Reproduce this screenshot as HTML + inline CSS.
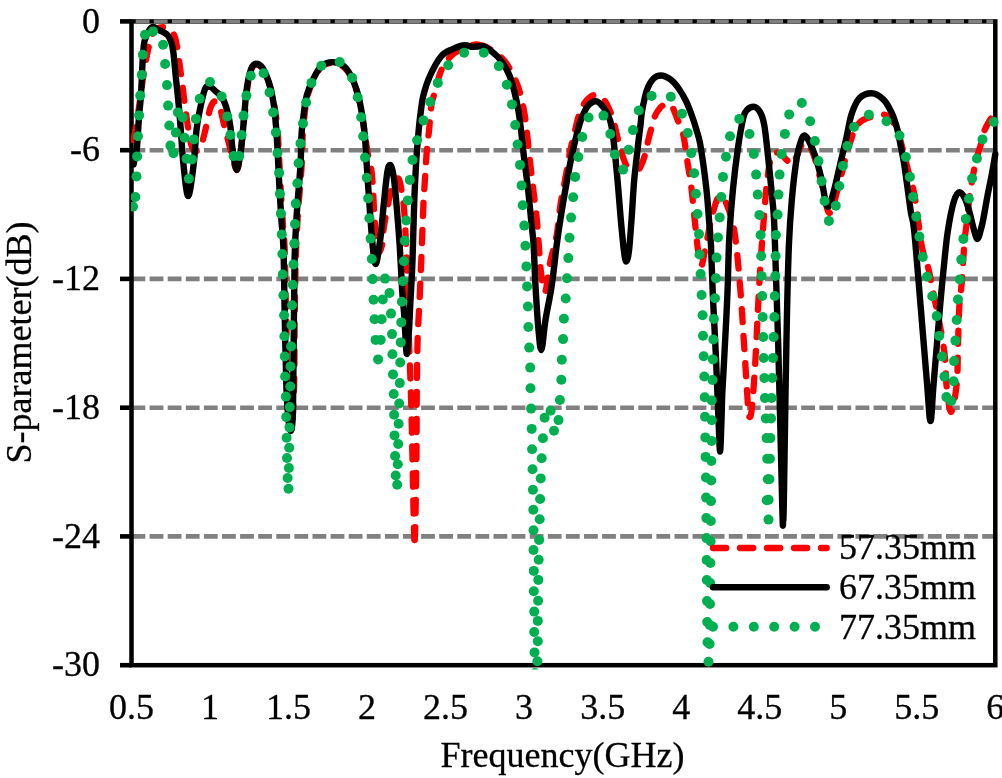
<!DOCTYPE html>
<html><head><meta charset="utf-8"><title>S-parameter chart</title>
<style>html,body{margin:0;padding:0;background:#fff;}body{width:1002px;height:778px;overflow:hidden;font-family:"Liberation Serif",serif;}svg{display:block;will-change:transform;}</style>
</head><body>
<svg width="1002" height="778" viewBox="0 0 1002 778">
<rect width="1002" height="778" fill="#fff"/>
<line x1="131.5" y1="150.2" x2="995.3" y2="150.2" stroke="#808080" stroke-width="4.6" stroke-dasharray="13.8 4.3"/>
<line x1="131.5" y1="278.9" x2="995.3" y2="278.9" stroke="#808080" stroke-width="4.6" stroke-dasharray="13.8 4.3"/>
<line x1="131.5" y1="407.7" x2="995.3" y2="407.7" stroke="#808080" stroke-width="4.6" stroke-dasharray="13.8 4.3"/>
<line x1="131.5" y1="536.4" x2="995.3" y2="536.4" stroke="#808080" stroke-width="4.6" stroke-dasharray="13.8 4.3"/>
<line x1="120" y1="21.4" x2="131.5" y2="21.4" stroke="#000" stroke-width="4.6"/>
<line x1="120" y1="150.2" x2="131.5" y2="150.2" stroke="#000" stroke-width="4.6"/>
<line x1="120" y1="278.9" x2="131.5" y2="278.9" stroke="#000" stroke-width="4.6"/>
<line x1="120" y1="407.7" x2="131.5" y2="407.7" stroke="#000" stroke-width="4.6"/>
<line x1="120" y1="536.4" x2="131.5" y2="536.4" stroke="#000" stroke-width="4.6"/>
<line x1="120" y1="665.2" x2="131.5" y2="665.2" stroke="#000" stroke-width="4.6"/>
<rect x="131.5" y="21.4" width="863.8" height="643.8" fill="none" stroke="#000" stroke-width="4.5"/>
<line x1="133.7" y1="21.4" x2="993.1" y2="21.4" stroke="#808080" stroke-width="3.6" stroke-dasharray="13.8 4.3" stroke-dashoffset="-2"/>
<defs><clipPath id="pc"><rect x="131.0" y="0.0" width="871.0" height="669.5"/></clipPath></defs>
<g clip-path="url(#pc)" fill="none" stroke-linejoin="round">
<path d="M132.0,145.0 C132.7,142.0 134.7,134.5 136.0,127.0 C137.3,119.5 138.8,108.7 140.0,100.0 C141.2,91.3 142.3,82.5 143.5,75.0 C144.7,67.5 145.9,60.5 147.0,55.0 C148.1,49.5 149.0,45.7 150.0,42.0 C151.0,38.3 151.8,35.2 153.0,33.0 C154.2,30.8 155.3,29.5 157.0,28.5 C158.7,27.5 161.5,27.2 163.3,27.2 C165.1,27.2 166.6,28.4 168.0,29.0 C169.4,29.6 170.4,29.8 171.5,31.0 C172.6,32.2 173.6,33.7 174.5,36.0 C175.4,38.3 176.1,41.0 176.8,45.0 C177.6,49.0 178.3,55.2 179.0,60.0 C179.7,64.8 180.3,69.3 180.9,74.0 C181.5,78.7 182.0,81.7 182.8,88.0 C183.6,94.3 184.5,103.0 185.8,112.0 C187.1,121.0 189.0,135.1 190.5,141.7 C192.0,148.3 193.4,151.5 195.0,151.5 C196.6,151.5 198.4,150.9 200.0,148.0 C201.6,145.1 203.1,139.0 204.4,134.0 C205.7,129.0 207.0,122.4 208.0,118.0 C209.0,113.6 209.4,110.2 210.5,107.5 C211.6,104.8 213.2,101.5 214.4,101.5 C215.6,101.5 216.5,101.2 217.6,102.8 C218.7,104.3 219.6,106.6 220.8,110.8 C222.0,115.0 223.6,123.1 224.8,128.0 C226.0,132.9 226.8,135.5 228.0,140.0 C229.2,144.5 230.5,150.0 232.0,155.0 C233.5,160.0 235.3,170.0 236.8,170.0 C238.3,170.0 239.9,156.5 241.0,149.0 C242.1,141.5 242.8,131.2 243.5,125.0 C244.2,118.8 244.3,118.3 245.0,112.0 C245.7,105.7 246.5,94.0 247.5,87.0 C248.5,80.0 249.6,73.8 251.0,70.0 C252.4,66.2 254.1,64.5 256.0,64.5 C257.9,64.5 260.3,65.4 262.5,68.5 C264.7,71.6 267.1,77.1 269.0,83.0 C270.9,88.9 272.6,96.8 274.0,104.0 C275.4,111.2 276.4,118.5 277.2,126.0 C278.0,133.5 278.1,138.5 278.7,149.0 C279.3,159.5 280.0,177.0 280.7,189.0 C281.4,201.0 282.0,210.8 282.7,221.0 C283.4,231.2 284.1,233.5 284.7,250.0 C285.3,266.5 285.6,296.7 286.2,320.0 C286.8,343.3 287.4,371.7 288.2,390.0 C289.0,408.3 290.2,430.0 291.2,430.0" stroke="#ff0000" stroke-width="6.3" stroke-linecap="round" stroke-dasharray="13.2 13.8" stroke-dashoffset="21.83"/>
<path d="M291.2,430.0 C292.2,430.0 293.4,408.3 294.0,390.0 C294.6,371.7 294.4,341.7 294.7,320.0 C295.0,298.3 295.3,275.0 295.7,260.0 C296.1,245.0 296.5,239.2 297.0,230.0 C297.5,220.8 297.8,215.6 298.6,204.8 C299.4,194.0 301.0,176.6 301.7,165.0 C302.4,153.4 302.2,143.3 302.7,135.0 C303.2,126.7 303.7,121.5 304.5,115.0 C305.3,108.5 306.0,101.8 307.5,96.0 C309.0,90.2 311.2,84.8 313.5,80.0 C315.8,75.2 318.3,69.8 321.5,67.0 C324.7,64.2 328.8,63.0 332.5,63.0 C336.2,63.0 340.5,64.5 343.7,67.0 C346.9,69.5 349.2,73.2 351.6,78.0 C354.0,82.8 356.3,89.3 358.0,95.5 C359.7,101.7 360.8,108.4 362.0,115.0 C363.2,121.6 364.0,128.3 365.0,135.0 C366.0,141.7 366.8,148.3 368.0,155.0 C369.2,161.7 370.9,163.8 372.0,175.0 C373.1,186.2 373.8,209.0 374.8,222.0 C375.8,235.0 376.8,253.0 378.0,253.0 C379.2,253.0 381.0,249.6 382.0,245.3 C383.0,241.0 383.1,232.7 383.8,227.3 C384.6,221.9 385.3,219.0 386.5,213.0 C387.7,207.0 389.1,197.1 391.0,191.3 C392.9,185.6 396.2,178.5 398.0,178.5 C399.8,178.5 400.6,185.6 401.7,191.3 C402.8,197.1 403.6,203.4 404.4,213.0 C405.1,222.6 405.7,237.7 406.2,248.9 C406.7,260.1 406.8,264.8 407.3,280.0 C407.8,295.2 408.4,321.7 409.0,340.0 C409.6,358.3 410.2,371.7 410.8,390.0 C411.4,408.3 411.9,430.0 412.3,450.0 C412.8,470.0 413.1,495.0 413.5,510.0 C413.9,525.0 414.2,540.0 414.6,540.0" stroke="#ff0000" stroke-width="6.3" stroke-linecap="round" stroke-dasharray="13.2 13.8" stroke-dashoffset="15.01"/>
<path d="M414.6,540.0 C415.0,540.0 415.3,525.0 415.6,510.0 C415.9,495.0 416.3,469.8 416.5,450.0 C416.7,430.2 416.6,409.7 416.8,391.0 C417.0,372.3 417.2,353.8 417.7,337.8 C418.2,321.8 419.2,308.8 419.8,295.0 C420.4,281.2 420.9,269.6 421.5,255.0 C422.1,240.4 422.7,220.5 423.3,207.5 C423.9,194.5 424.5,186.6 425.1,177.0 C425.7,167.4 426.2,157.7 426.9,150.0 C427.5,142.3 428.2,138.5 429.0,131.0 C429.8,123.5 430.5,111.3 431.4,105.0 C432.3,98.7 433.0,98.9 434.6,93.2 C436.2,87.5 438.4,77.0 441.0,70.9 C443.6,64.8 447.0,60.1 450.5,56.5 C454.0,52.9 457.7,51.0 462.0,49.0 C466.3,47.0 471.6,44.5 476.1,44.5" stroke="#ff0000" stroke-width="6.3" stroke-linecap="round" stroke-dasharray="13.2 13.8" stroke-dashoffset="0.00"/>
<path d="M476.1,44.5 C480.6,44.5 484.1,45.7 488.9,48.5 C493.7,51.3 500.0,55.2 504.8,61.3 C509.6,67.4 514.4,77.0 517.6,85.3 C520.8,93.5 522.4,102.5 524.0,110.8 C525.6,119.1 526.1,126.0 527.2,135.0 C528.3,144.0 529.3,155.4 530.4,164.9 C531.5,174.4 532.5,183.1 533.6,192.1 C534.7,201.1 535.9,210.4 536.8,219.2 C537.7,228.0 538.0,235.7 538.8,245.0 C539.5,254.3 540.3,267.2 541.3,275.0 C542.3,282.8 543.5,292.0 545.0,292.0 C546.5,292.0 548.3,271.5 550.3,262.0 C552.2,252.5 555.0,244.8 556.7,235.0 C558.4,225.2 559.2,212.8 560.7,203.2 C562.2,193.6 563.9,186.5 565.5,177.7" stroke="#ff0000" stroke-width="6.3" stroke-linecap="round" stroke-dasharray="13.2 13.8" stroke-dashoffset="25.02"/>
<path d="M565.5,177.7 C567.1,168.9 568.7,158.4 570.3,150.5 C571.9,142.6 573.6,135.9 575.1,130.0 C576.6,124.1 577.4,119.5 579.0,115.0 C580.6,110.5 582.7,105.9 584.7,102.8 C586.7,99.7 589.1,97.7 591.0,96.4 C592.9,95.1 594.3,95.0 596.0,95.0 C597.7,95.0 599.5,96.4 601.0,97.5 C602.5,98.6 603.4,98.3 605.3,101.6 C607.2,104.8 610.1,110.2 612.4,117.0 C614.6,123.8 616.9,135.5 618.8,142.7 C620.7,149.9 622.4,155.7 624.0,160.0 C625.6,164.3 627.0,166.4 628.5,168.5 C630.0,170.6 631.6,172.5 633.0,172.5" stroke="#ff0000" stroke-width="6.3" stroke-linecap="round" stroke-dasharray="13.2 13.8" stroke-dashoffset="4.97"/>
<path d="M633.0,172.5 C634.4,172.5 635.7,172.5 637.0,171.5 C638.3,170.5 639.3,169.4 640.7,166.5 C642.1,163.6 644.0,158.5 645.2,154.3 C646.4,150.1 646.9,145.9 648.0,141.4 C649.1,136.9 650.4,131.5 651.6,127.3 C652.8,123.1 653.9,118.9 655.0,116.0 C656.1,113.1 657.3,111.7 658.5,110.0 C659.7,108.3 660.6,107.0 662.0,106.0 C663.4,105.0 665.3,104.0 667.0,104.0 C668.7,104.0 670.5,104.5 672.2,107.0 C673.9,109.5 675.4,114.3 677.2,118.8 C679.0,123.3 681.3,126.5 683.1,134.1 C684.9,141.7 686.4,155.3 687.8,164.2 C689.2,173.1 690.1,177.9 691.3,187.3 C692.5,196.7 693.7,210.4 694.8,220.8 C695.9,231.2 696.9,242.5 698.0,250.0 C699.1,257.5 699.9,266.0 701.2,266.0 C702.5,266.0 704.1,253.6 706.0,245.0 C707.9,236.4 710.1,222.8 712.4,214.6 C714.7,206.4 717.4,195.9 719.8,195.9 C722.2,195.9 724.5,198.8 727.0,205.0 C729.5,211.2 732.5,219.2 734.7,233.2 C736.9,247.2 738.7,270.5 740.3,289.1 C741.9,307.8 742.9,326.1 744.1,345.1 C745.4,364.1 746.9,391.0 747.8,403.0 C748.7,415.0 749.0,417.0 749.7,417.0 C750.4,417.0 751.1,415.9 752.0,407.0 C752.9,398.1 754.0,383.3 755.2,363.7 C756.4,344.1 757.8,310.9 759.0,289.1 C760.2,267.4 761.5,250.2 762.7,233.2 C764.0,216.2 765.1,200.0 766.5,187.3 C767.9,174.6 769.2,163.0 771.1,157.2 C773.0,151.4 775.5,152.6 778.0,152.6 C780.5,152.6 783.9,157.6 786.2,159.5 C788.5,161.4 789.5,164.2 792.0,164.2 C794.5,164.2 799.1,149.1 801.2,145.6 C803.3,142.1 802.8,143.3 804.7,143.3 C806.6,143.3 809.9,145.7 812.8,152.6 C815.7,159.5 819.2,174.9 822.0,185.0 C824.8,195.1 826.8,213.0 829.5,213.0 C832.2,213.0 835.6,196.2 838.2,187.3 C840.8,178.4 842.9,168.0 845.2,159.5 C847.5,151.0 850.1,142.1 852.1,136.4 C854.1,130.7 855.7,127.9 857.5,125.2 C859.3,122.5 860.9,121.3 863.0,120.0 C865.1,118.7 866.7,118.1 870.0,117.2 C873.3,116.3 879.4,114.5 882.7,114.5 C886.0,114.5 887.6,115.4 890.0,118.0 C892.4,120.6 894.8,124.7 897.0,130.0 C899.2,135.3 901.2,143.3 903.0,150.0 C904.8,156.7 906.2,163.0 908.0,170.0 C909.8,177.0 912.1,183.1 913.9,192.1 C915.7,201.1 917.5,216.0 918.6,224.0 C919.7,232.0 919.8,234.7 920.7,240.0 C921.6,245.3 922.7,250.9 924.0,255.7 C925.3,260.5 926.8,262.2 928.4,268.6 C930.0,275.0 931.5,283.6 933.6,294.3 C935.8,305.0 939.4,322.2 941.3,332.9 C943.2,343.6 944.2,350.0 945.1,358.6 C946.0,367.2 945.4,375.4 946.4,384.3 C947.4,393.2 949.3,412.0 951.0,412.0 C952.7,412.0 955.5,395.4 956.7,384.3 C957.9,373.2 957.6,358.6 958.0,345.7 C958.4,332.8 958.6,317.8 959.3,307.1 C959.9,296.4 961.0,292.1 961.9,281.4 C962.8,270.7 963.6,252.5 964.4,242.9 C965.2,233.3 965.7,231.9 966.6,224.0 C967.5,216.1 968.7,203.3 969.7,195.3 C970.8,187.3 971.8,182.0 972.9,176.1 C974.0,170.2 974.8,165.4 976.1,160.1 C977.4,154.8 979.6,149.0 980.9,144.2 C982.2,139.4 982.6,135.5 984.1,131.5 C985.6,127.5 987.8,123.6 989.7,120.4 C991.6,117.2 994.5,113.8 995.5,112.5" stroke="#ff0000" stroke-width="6.3" stroke-linecap="round" stroke-dasharray="13.2 13.8" stroke-dashoffset="18.53"/>
<path d="M133.6,164.5 C133.8,163.2 134.5,159.5 135.0,157.0 C135.5,154.5 136.1,156.3 136.8,149.4 C137.5,142.5 138.4,124.5 139.1,115.4 C139.8,106.3 140.4,104.0 141.0,94.8 C141.6,85.6 142.1,69.0 142.7,60.0 C143.3,51.0 143.4,45.8 144.6,40.7 C145.8,35.6 148.1,31.8 149.6,29.5 C151.1,27.2 152.0,27.0 153.4,27.0 C154.8,27.0 156.4,28.7 158.0,29.5 C159.6,30.3 161.4,31.1 163.0,32.0 C164.6,32.9 166.2,33.5 167.5,35.0 C168.8,36.5 169.9,38.3 170.8,41.0 C171.8,43.7 172.3,44.7 173.2,51.0 C174.1,57.3 175.1,70.4 176.0,79.0 C176.9,87.6 177.8,95.0 178.5,102.8 C179.2,110.6 179.7,115.7 180.5,126.0 C181.3,136.3 182.2,153.1 183.5,164.8 C184.8,176.5 186.5,196.0 188.2,196.0 C189.9,196.0 192.2,175.8 193.6,164.8 C195.0,153.8 195.5,139.0 196.5,130.0 C197.5,121.0 198.3,117.6 199.7,110.8 C201.1,104.0 203.3,93.0 205.0,89.0 C206.7,85.0 208.0,86.9 209.8,86.9 C211.6,86.9 213.9,89.8 216.0,91.6 C218.1,93.4 220.5,94.8 222.4,98.0 C224.3,101.2 225.9,106.0 227.2,110.8 C228.5,115.6 229.5,120.4 230.4,126.8 C231.3,133.2 231.4,141.8 232.5,149.0 C233.6,156.2 235.4,170.0 236.8,170.0 C238.2,170.0 240.0,155.7 241.0,149.0 C242.0,142.3 242.4,136.2 243.0,130.0 C243.6,123.8 243.8,119.2 244.5,112.0 C245.2,104.8 245.9,94.0 247.0,86.9 C248.1,79.8 249.5,73.2 251.0,69.3 C252.5,65.4 254.0,63.7 255.9,63.7 C257.8,63.7 260.2,64.7 262.3,67.7 C264.4,70.8 266.8,76.2 268.7,82.0 C270.6,87.8 272.3,95.5 273.5,102.8 C274.7,110.1 275.3,118.3 276.0,126.0 C276.7,133.7 276.9,138.5 277.5,149.0 C278.1,159.5 278.8,177.0 279.5,189.0 C280.2,201.0 280.8,210.8 281.5,221.0 C282.2,231.2 282.9,233.5 283.5,250.0 C284.1,266.5 284.3,296.7 284.8,320.0 C285.3,343.3 285.9,373.3 286.5,390.0 C287.1,406.7 287.8,413.2 288.5,420.0 C289.2,426.8 290.1,431.0 290.8,431.0 C291.5,431.0 292.2,426.8 292.6,420.0 C293.0,413.2 293.0,406.7 293.2,390.0 C293.4,373.3 293.7,341.7 293.9,320.0 C294.1,298.3 294.3,275.0 294.6,260.0 C294.9,245.0 295.3,239.2 295.8,230.0 C296.3,220.8 296.6,215.6 297.4,204.8 C298.2,194.0 299.8,176.6 300.5,165.0 C301.2,153.4 301.0,143.5 301.5,135.0 C302.0,126.5 302.8,120.7 303.7,114.0 C304.6,107.3 305.3,100.6 306.9,94.8 C308.5,89.0 310.9,83.7 313.3,78.9 C315.7,74.1 318.1,68.9 321.3,66.1 C324.5,63.3 328.8,62.1 332.5,62.1 C336.2,62.1 340.5,63.6 343.7,66.1 C346.9,68.6 349.2,72.5 351.6,77.3 C354.0,82.1 356.3,88.7 358.0,94.8 C359.7,100.9 360.9,107.3 362.0,114.0 C363.1,120.7 364.1,127.8 364.8,135.0 C365.5,142.2 365.4,145.5 366.2,157.0 C367.0,168.5 368.3,188.6 369.4,203.9 C370.5,219.2 371.9,238.9 373.0,248.9 C374.1,258.9 374.5,264.0 375.7,264.0 C376.9,264.0 378.8,249.9 380.2,239.9 C381.6,229.9 382.6,215.3 383.8,203.9 C385.0,192.5 386.3,178.1 387.4,171.6 C388.4,165.1 389.1,165.0 390.1,165.0 C391.2,165.0 392.5,169.0 393.7,177.0 C394.9,185.0 396.2,200.9 397.2,212.9 C398.2,224.9 399.1,236.1 399.9,248.9 C400.7,261.7 401.4,278.5 402.1,289.9 C402.9,301.3 403.6,306.6 404.4,317.3 C405.2,328.0 406.0,354.0 406.8,354.0 C407.6,354.0 408.4,339.0 409.0,330.0 C409.6,321.0 409.9,311.7 410.5,300.0 C411.1,288.3 411.9,276.7 412.5,260.0 C413.1,243.3 413.7,215.8 414.3,200.0 C414.9,184.2 415.3,176.7 416.0,165.0 C416.7,153.3 417.9,139.2 418.7,130.0 C419.5,120.8 420.2,115.9 421.0,110.0 C421.8,104.1 422.0,100.5 423.5,94.8 C425.0,89.1 427.0,82.4 429.9,76.0 C432.8,69.6 437.3,61.0 441.0,56.5 C444.7,52.0 448.1,51.2 452.1,49.3 C456.1,47.4 461.4,45.3 464.9,45.3 C468.4,45.3 470.0,46.9 472.9,46.9 C475.8,46.9 479.3,46.1 482.5,46.1 C485.7,46.1 488.9,49.2 492.1,51.7 C495.3,54.2 498.7,57.3 501.6,61.3 C504.5,65.3 507.5,70.7 509.6,75.7 C511.7,80.8 512.9,85.8 514.4,91.6 C515.9,97.4 517.3,104.4 518.4,110.8 C519.5,117.2 520.1,122.3 521.0,130.0 C521.9,137.7 522.8,147.2 524.0,157.0 C525.2,166.8 526.8,178.3 528.0,188.9 C529.2,199.5 530.3,211.5 531.2,220.8 C532.1,230.2 532.9,234.1 533.6,245.0 C534.3,255.9 534.7,271.8 535.5,286.0 C536.3,300.2 537.5,319.3 538.5,330.0 C539.5,340.7 540.1,350.0 541.3,350.0 C542.5,350.0 543.8,330.6 545.5,320.0 C547.2,309.4 549.7,298.9 551.6,286.4 C553.5,273.9 555.2,256.5 556.7,245.0 C558.2,233.5 559.2,226.9 560.7,217.6 C562.2,208.2 563.7,199.0 565.5,188.9 C567.3,178.8 569.6,166.0 571.5,157.0 C573.4,148.0 575.0,141.4 576.6,135.0 C578.2,128.6 579.5,123.6 581.4,118.8 C583.3,114.0 585.4,108.9 587.8,106.0 C590.2,103.1 593.1,101.2 595.8,101.2 C598.4,101.2 601.3,104.4 603.7,107.6 C606.1,110.8 608.5,115.0 610.1,120.4 C611.7,125.8 612.3,130.1 613.5,140.0 C614.7,149.9 616.3,166.9 617.5,180.0 C618.7,193.1 619.6,206.7 620.7,218.5 C621.8,230.3 623.0,243.5 623.9,250.7 C624.8,257.9 625.4,261.5 626.2,261.5 C627.1,261.5 628.1,257.9 629.0,250.7 C629.9,243.5 630.7,230.3 631.6,218.5 C632.5,206.7 633.2,191.4 634.2,180.0 C635.2,168.6 636.5,159.2 637.5,150.0 C638.5,140.8 639.7,131.5 640.5,125.0 C641.3,118.5 641.0,116.6 642.1,110.8 C643.2,105.0 645.0,95.3 646.9,90.0 C648.8,84.7 650.9,81.3 653.2,78.9 C655.6,76.5 658.1,75.5 661.0,75.5 C663.9,75.5 667.8,77.5 670.8,79.7 C673.8,82.0 676.5,85.5 679.0,89.0 C681.5,92.5 683.8,96.5 686.0,101.0 C688.2,105.5 690.2,111.2 692.0,116.0 C693.8,120.8 695.2,125.5 696.5,130.0 C697.8,134.5 698.8,136.7 700.0,143.0 C701.2,149.3 702.6,159.3 703.8,167.8 C704.9,176.3 706.0,185.2 706.9,193.8 C707.8,202.5 708.3,211.0 709.0,219.7 C709.7,228.3 710.4,232.9 711.0,245.7 C711.6,258.5 712.1,277.9 712.9,296.7 C713.7,315.5 715.1,337.8 716.0,358.4 C716.9,378.9 717.8,404.5 718.5,420.0 C719.2,435.5 719.6,451.5 720.1,451.5 C720.6,451.5 721.1,429.4 721.5,420.0 C721.9,410.6 721.8,405.3 722.2,395.0 C722.7,384.7 723.4,374.8 724.2,358.4 C725.1,342.0 726.4,317.3 727.3,296.7 C728.2,276.1 728.4,253.0 729.4,235.0 C730.4,217.0 731.6,203.2 733.0,188.9 C734.4,174.6 736.1,160.8 737.8,149.0 C739.5,137.2 741.8,124.4 743.3,117.9 C744.8,111.4 745.3,111.8 747.0,110.0 C748.7,108.2 751.5,106.8 753.7,106.8 C755.9,106.8 758.2,109.0 760.0,112.0 C761.8,115.0 762.9,117.3 764.2,124.8 C765.6,132.3 766.8,145.0 768.1,157.0 C769.4,169.0 771.0,184.7 772.1,196.9 C773.2,209.1 773.5,205.6 774.5,230.0 C775.5,254.4 776.9,297.2 778.2,343.5 C779.5,389.8 781.5,478.4 782.3,508.0 C783.1,537.6 782.9,521.0 783.2,521.0 C783.6,521.0 783.9,496.6 784.4,467.0 C784.9,437.4 785.6,380.5 786.4,343.5 C787.1,306.5 787.9,269.4 788.9,245.0 C789.9,220.6 790.8,211.6 792.1,196.9 C793.4,182.2 795.4,166.5 796.9,157.0 C798.4,147.5 800.1,143.6 801.3,140.0 C802.5,136.4 803.2,135.5 804.3,135.5 C805.4,135.5 806.3,136.4 808.0,139.4 C809.7,142.4 812.3,147.6 814.4,153.7 C816.5,159.8 818.6,167.2 820.8,176.1 C823.0,185.0 825.6,207.0 827.7,207.0 C829.8,207.0 831.6,199.1 833.6,192.1 C835.6,185.1 837.9,173.9 840.0,164.9 C842.1,155.9 844.5,146.3 846.4,137.8 C848.3,129.3 849.4,120.6 851.6,114.0 C853.8,107.4 856.3,101.5 859.6,98.0 C862.9,94.5 867.5,93.2 871.5,93.2 C875.5,93.2 880.2,96.4 883.5,99.6 C886.8,102.8 889.2,107.6 891.5,112.4 C893.8,117.2 895.6,123.0 897.1,128.4 C898.6,133.8 899.3,138.9 900.5,145.0 C901.7,151.1 903.0,156.6 904.3,164.9 C905.6,173.2 907.4,187.0 908.5,195.0 C909.6,203.0 910.0,206.8 911.0,213.0 C912.0,219.2 912.7,216.3 914.3,232.0 C915.9,247.7 918.6,281.7 920.7,307.1 C922.8,332.5 925.5,365.3 927.1,384.3 C928.7,403.3 929.4,421.0 930.5,421.0 C931.6,421.0 932.0,403.3 933.6,384.3 C935.2,365.3 938.3,327.0 940.0,307.1 C941.7,287.2 942.7,277.5 944.0,265.0 C945.3,252.5 946.1,242.6 947.7,232.0 C949.3,221.4 951.8,208.2 953.8,201.6 C955.8,194.9 957.5,192.1 959.4,192.1 C961.3,192.1 963.3,195.1 965.0,198.5 C966.7,201.9 968.2,207.6 969.7,212.8 C971.2,218.1 972.7,225.6 974.0,230.0 C975.3,234.4 976.2,239.0 977.5,239.0 C978.8,239.0 980.5,230.5 981.5,227.0 C982.5,223.5 982.5,223.0 983.5,218.0 C984.5,213.0 985.9,204.4 987.3,196.9 C988.7,189.4 990.8,180.1 992.1,172.9 C993.4,165.8 994.8,157.2 995.3,154.0" stroke="#000" stroke-width="6.4" stroke-linecap="round"/>
<g fill="#00b050" stroke="none"><circle cx="133.0" cy="206.6" r="5.0"/><circle cx="135.3" cy="197.0" r="5.0"/><circle cx="136.5" cy="176.4" r="5.0"/><circle cx="137.1" cy="156.4" r="5.0"/><circle cx="138.0" cy="136.3" r="5.0"/><circle cx="139.1" cy="115.4" r="5.0"/><circle cx="140.2" cy="95.6" r="5.0"/><circle cx="141.8" cy="74.9" r="5.0"/><circle cx="142.9" cy="54.7" r="5.0"/><circle cx="145.0" cy="34.7" r="5.0"/><circle cx="153.0" cy="31.4" r="5.0"/><circle cx="163.1" cy="44.7" r="5.0"/><circle cx="165.1" cy="64.0" r="5.0"/><circle cx="167.0" cy="85.1" r="5.0"/><circle cx="168.1" cy="105.6" r="5.0"/><circle cx="169.3" cy="125.5" r="5.0"/><circle cx="170.4" cy="145.6" r="5.0"/><circle cx="173.5" cy="153.3" r="5.0"/><circle cx="175.9" cy="132.6" r="5.0"/><circle cx="177.9" cy="112.4" r="5.0"/><circle cx="182.7" cy="117.5" r="5.0"/><circle cx="184.6" cy="137.8" r="5.0"/><circle cx="186.6" cy="158.7" r="5.0"/><circle cx="188.9" cy="178.7" r="5.0"/><circle cx="192.0" cy="159.4" r="5.0"/><circle cx="193.9" cy="139.4" r="5.0"/><circle cx="195.9" cy="118.9" r="5.0"/><circle cx="199.7" cy="98.8" r="5.0"/><circle cx="210.0" cy="82.0" r="5.0"/><circle cx="221.6" cy="96.4" r="5.0"/><circle cx="227.2" cy="116.4" r="5.0"/><circle cx="230.4" cy="135.0" r="5.0"/><circle cx="233.6" cy="156.1" r="5.0"/><circle cx="239.2" cy="156.1" r="5.0"/><circle cx="241.6" cy="135.0" r="5.0"/><circle cx="243.5" cy="115.6" r="5.0"/><circle cx="246.4" cy="95.6" r="5.0"/><circle cx="250.8" cy="75.7" r="5.0"/><circle cx="263.6" cy="73.3" r="5.0"/><circle cx="269.5" cy="92.4" r="5.0"/><circle cx="273.2" cy="112.4" r="5.0"/><circle cx="275.9" cy="132.4" r="5.0"/><circle cx="277.5" cy="153.0" r="5.0"/><circle cx="279.1" cy="172.9" r="5.0"/><circle cx="279.9" cy="193.7" r="5.0"/><circle cx="280.9" cy="213.6" r="5.0"/><circle cx="281.8" cy="234.4" r="5.0"/><circle cx="282.4" cy="254.0" r="5.0"/><circle cx="282.8" cy="274.4" r="5.0"/><circle cx="283.4" cy="295.2" r="5.0"/><circle cx="284.1" cy="315.3" r="5.0"/><circle cx="284.4" cy="336.3" r="5.0"/><circle cx="284.8" cy="356.4" r="5.0"/><circle cx="285.1" cy="376.5" r="5.0"/><circle cx="285.9" cy="396.6" r="5.0"/><circle cx="286.2" cy="417.1" r="5.0"/><circle cx="286.6" cy="437.7" r="5.0"/><circle cx="287.0" cy="458.0" r="5.0"/><circle cx="287.6" cy="478.0" r="5.0"/><circle cx="288.5" cy="488.7" r="5.0"/><circle cx="288.9" cy="468.0" r="5.0"/><circle cx="289.2" cy="447.8" r="5.0"/><circle cx="289.5" cy="427.4" r="5.0"/><circle cx="289.8" cy="407.1" r="5.0"/><circle cx="290.3" cy="386.5" r="5.0"/><circle cx="290.5" cy="366.4" r="5.0"/><circle cx="291.1" cy="346.4" r="5.0"/><circle cx="291.5" cy="325.3" r="5.0"/><circle cx="292.1" cy="305.2" r="5.0"/><circle cx="292.8" cy="284.8" r="5.0"/><circle cx="293.5" cy="264.4" r="5.0"/><circle cx="294.3" cy="243.6" r="5.0"/><circle cx="295.0" cy="224.0" r="5.0"/><circle cx="295.8" cy="203.6" r="5.0"/><circle cx="297.4" cy="183.3" r="5.0"/><circle cx="298.6" cy="163.3" r="5.0"/><circle cx="300.5" cy="143.4" r="5.0"/><circle cx="303.0" cy="123.5" r="5.0"/><circle cx="306.1" cy="102.5" r="5.0"/><circle cx="311.4" cy="82.9" r="5.0"/><circle cx="321.3" cy="65.8" r="5.0"/><circle cx="339.7" cy="62.1" r="5.0"/><circle cx="352.1" cy="77.8" r="5.0"/><circle cx="357.7" cy="97.2" r="5.0"/><circle cx="361.2" cy="117.2" r="5.0"/><circle cx="363.2" cy="136.3" r="5.0"/><circle cx="365.0" cy="157.5" r="5.0"/><circle cx="366.8" cy="177.8" r="5.0"/><circle cx="368.2" cy="198.4" r="5.0"/><circle cx="369.4" cy="218.3" r="5.0"/><circle cx="370.6" cy="238.6" r="5.0"/><circle cx="371.8" cy="259.0" r="5.0"/><circle cx="372.7" cy="279.1" r="5.0"/><circle cx="373.5" cy="299.8" r="5.0"/><circle cx="374.5" cy="319.3" r="5.0"/><circle cx="375.6" cy="339.9" r="5.0"/><circle cx="378.1" cy="359.4" r="5.0"/><circle cx="380.7" cy="339.9" r="5.0"/><circle cx="381.7" cy="319.3" r="5.0"/><circle cx="382.8" cy="299.4" r="5.0"/><circle cx="385.0" cy="278.6" r="5.0"/><circle cx="389.5" cy="293.0" r="5.0"/><circle cx="391.0" cy="313.6" r="5.0"/><circle cx="392.0" cy="334.1" r="5.0"/><circle cx="392.4" cy="354.3" r="5.0"/><circle cx="393.0" cy="374.4" r="5.0"/><circle cx="393.7" cy="394.0" r="5.0"/><circle cx="394.1" cy="414.8" r="5.0"/><circle cx="394.5" cy="435.4" r="5.0"/><circle cx="395.1" cy="456.0" r="5.0"/><circle cx="395.7" cy="475.5" r="5.0"/><circle cx="397.2" cy="484.7" r="5.0"/><circle cx="397.8" cy="464.2" r="5.0"/><circle cx="398.2" cy="444.0" r="5.0"/><circle cx="398.6" cy="423.7" r="5.0"/><circle cx="399.2" cy="403.5" r="5.0"/><circle cx="399.8" cy="383.1" r="5.0"/><circle cx="400.2" cy="362.5" r="5.0"/><circle cx="400.7" cy="342.4" r="5.0"/><circle cx="401.3" cy="322.4" r="5.0"/><circle cx="401.9" cy="301.8" r="5.0"/><circle cx="402.9" cy="281.3" r="5.0"/><circle cx="403.9" cy="261.2" r="5.0"/><circle cx="404.8" cy="240.8" r="5.0"/><circle cx="406.2" cy="220.5" r="5.0"/><circle cx="407.8" cy="200.4" r="5.0"/><circle cx="409.8" cy="179.9" r="5.0"/><circle cx="412.5" cy="160.0" r="5.0"/><circle cx="417.1" cy="140.2" r="5.0"/><circle cx="423.5" cy="120.4" r="5.0"/><circle cx="430.2" cy="102.0" r="5.0"/><circle cx="437.8" cy="82.9" r="5.0"/><circle cx="448.2" cy="65.3" r="5.0"/><circle cx="464.1" cy="52.8" r="5.0"/><circle cx="483.8" cy="52.8" r="5.0"/><circle cx="498.8" cy="66.1" r="5.0"/><circle cx="506.8" cy="84.8" r="5.0"/><circle cx="512.0" cy="104.4" r="5.0"/><circle cx="515.2" cy="125.0" r="5.0"/><circle cx="517.6" cy="144.5" r="5.0"/><circle cx="520.0" cy="164.9" r="5.0"/><circle cx="521.6" cy="185.4" r="5.0"/><circle cx="522.7" cy="205.2" r="5.0"/><circle cx="524.3" cy="225.6" r="5.0"/><circle cx="525.4" cy="245.8" r="5.0"/><circle cx="526.4" cy="266.4" r="5.0"/><circle cx="527.1" cy="286.4" r="5.0"/><circle cx="527.9" cy="306.5" r="5.0"/><circle cx="528.4" cy="327.0" r="5.0"/><circle cx="529.2" cy="347.6" r="5.0"/><circle cx="530.2" cy="367.6" r="5.0"/><circle cx="530.5" cy="388.2" r="5.0"/><circle cx="531.1" cy="408.6" r="5.0"/><circle cx="531.7" cy="428.9" r="5.0"/><circle cx="532.1" cy="449.2" r="5.0"/><circle cx="532.5" cy="469.2" r="5.0"/><circle cx="532.9" cy="489.7" r="5.0"/><circle cx="533.3" cy="509.7" r="5.0"/><circle cx="533.5" cy="530.3" r="5.0"/><circle cx="533.5" cy="550.0" r="5.0"/><circle cx="533.8" cy="570.9" r="5.0"/><circle cx="533.8" cy="591.2" r="5.0"/><circle cx="534.2" cy="611.6" r="5.0"/><circle cx="534.2" cy="632.0" r="5.0"/><circle cx="534.5" cy="652.4" r="5.0"/><circle cx="535.0" cy="673.0" r="5.0"/><circle cx="537.4" cy="661.3" r="5.0"/><circle cx="537.8" cy="641.2" r="5.0"/><circle cx="537.8" cy="620.9" r="5.0"/><circle cx="538.1" cy="600.8" r="5.0"/><circle cx="538.3" cy="579.9" r="5.0"/><circle cx="538.7" cy="559.8" r="5.0"/><circle cx="539.1" cy="540.0" r="5.0"/><circle cx="539.7" cy="519.2" r="5.0"/><circle cx="540.1" cy="499.0" r="5.0"/><circle cx="540.7" cy="478.4" r="5.0"/><circle cx="541.7" cy="458.3" r="5.0"/><circle cx="542.9" cy="438.2" r="5.0"/><circle cx="544.6" cy="417.7" r="5.0"/><circle cx="550.6" cy="410.8" r="5.0"/><circle cx="554.0" cy="430.8" r="5.0"/><circle cx="558.5" cy="420.1" r="5.0"/><circle cx="559.9" cy="400.0" r="5.0"/><circle cx="561.3" cy="379.7" r="5.0"/><circle cx="561.8" cy="359.7" r="5.0"/><circle cx="563.1" cy="339.1" r="5.0"/><circle cx="563.9" cy="318.8" r="5.0"/><circle cx="565.7" cy="298.5" r="5.0"/><circle cx="567.0" cy="278.2" r="5.0"/><circle cx="568.3" cy="258.1" r="5.0"/><circle cx="569.5" cy="237.8" r="5.0"/><circle cx="571.1" cy="217.6" r="5.0"/><circle cx="573.2" cy="197.2" r="5.0"/><circle cx="575.1" cy="176.9" r="5.0"/><circle cx="578.3" cy="157.0" r="5.0"/><circle cx="582.3" cy="137.0" r="5.0"/><circle cx="588.6" cy="117.5" r="5.0"/><circle cx="603.4" cy="115.6" r="5.0"/><circle cx="610.3" cy="134.0" r="5.0"/><circle cx="614.9" cy="154.4" r="5.0"/><circle cx="623.1" cy="169.6" r="5.0"/><circle cx="628.6" cy="149.8" r="5.0"/><circle cx="633.0" cy="130.1" r="5.0"/><circle cx="638.8" cy="110.5" r="5.0"/><circle cx="651.6" cy="95.9" r="5.0"/><circle cx="670.8" cy="96.8" r="5.0"/><circle cx="682.0" cy="113.7" r="5.0"/><circle cx="687.7" cy="133.0" r="5.0"/><circle cx="691.2" cy="153.1" r="5.0"/><circle cx="694.1" cy="173.3" r="5.0"/><circle cx="695.9" cy="193.7" r="5.0"/><circle cx="697.5" cy="214.0" r="5.0"/><circle cx="699.0" cy="234.1" r="5.0"/><circle cx="699.5" cy="254.5" r="5.0"/><circle cx="700.6" cy="274.1" r="5.0"/><circle cx="701.6" cy="295.0" r="5.0"/><circle cx="702.6" cy="315.2" r="5.0"/><circle cx="703.0" cy="335.8" r="5.0"/><circle cx="703.7" cy="356.3" r="5.0"/><circle cx="704.3" cy="376.5" r="5.0"/><circle cx="704.7" cy="397.3" r="5.0"/><circle cx="705.0" cy="416.8" r="5.0"/><circle cx="705.3" cy="437.4" r="5.0"/><circle cx="705.6" cy="456.9" r="5.0"/><circle cx="705.9" cy="477.5" r="5.0"/><circle cx="706.1" cy="497.6" r="5.0"/><circle cx="706.3" cy="518.1" r="5.0"/><circle cx="706.5" cy="538.1" r="5.0"/><circle cx="706.6" cy="560.0" r="5.0"/><circle cx="706.8" cy="580.0" r="5.0"/><circle cx="707.0" cy="601.0" r="5.0"/><circle cx="707.2" cy="622.0" r="5.0"/><circle cx="707.5" cy="642.3" r="5.0"/><circle cx="708.5" cy="661.8" r="5.0"/><circle cx="709.6" cy="644.0" r="5.0"/><circle cx="709.8" cy="625.0" r="5.0"/><circle cx="710.0" cy="604.0" r="5.0"/><circle cx="710.2" cy="583.0" r="5.0"/><circle cx="710.4" cy="563.0" r="5.0"/><circle cx="710.6" cy="541.2" r="5.0"/><circle cx="710.8" cy="521.0" r="5.0"/><circle cx="711.0" cy="501.1" r="5.0"/><circle cx="711.2" cy="480.5" r="5.0"/><circle cx="711.4" cy="461.0" r="5.0"/><circle cx="711.6" cy="440.9" r="5.0"/><circle cx="711.8" cy="420.3" r="5.0"/><circle cx="711.8" cy="400.4" r="5.0"/><circle cx="712.5" cy="380.0" r="5.0"/><circle cx="712.9" cy="359.4" r="5.0"/><circle cx="713.3" cy="339.5" r="5.0"/><circle cx="713.9" cy="318.9" r="5.0"/><circle cx="715.0" cy="298.3" r="5.0"/><circle cx="716.0" cy="278.2" r="5.0"/><circle cx="716.6" cy="257.6" r="5.0"/><circle cx="718.0" cy="237.5" r="5.0"/><circle cx="719.7" cy="217.4" r="5.0"/><circle cx="721.3" cy="197.0" r="5.0"/><circle cx="723.0" cy="176.9" r="5.0"/><circle cx="726.0" cy="156.8" r="5.0"/><circle cx="730.0" cy="136.3" r="5.0"/><circle cx="739.3" cy="118.9" r="5.0"/><circle cx="749.5" cy="134.0" r="5.0"/><circle cx="753.8" cy="154.0" r="5.0"/><circle cx="756.1" cy="174.6" r="5.0"/><circle cx="757.7" cy="194.6" r="5.0"/><circle cx="759.4" cy="214.9" r="5.0"/><circle cx="760.6" cy="235.0" r="5.0"/><circle cx="761.2" cy="256.0" r="5.0"/><circle cx="761.7" cy="276.0" r="5.0"/><circle cx="762.2" cy="296.0" r="5.0"/><circle cx="762.7" cy="317.0" r="5.0"/><circle cx="763.2" cy="337.0" r="5.0"/><circle cx="763.7" cy="358.0" r="5.0"/><circle cx="764.3" cy="378.0" r="5.0"/><circle cx="764.9" cy="398.0" r="5.0"/><circle cx="765.8" cy="418.4" r="5.0"/><circle cx="766.6" cy="438.1" r="5.0"/><circle cx="767.2" cy="458.7" r="5.0"/><circle cx="767.8" cy="479.3" r="5.0"/><circle cx="768.5" cy="519.6" r="5.0"/><circle cx="768.6" cy="499.8" r="5.0"/><circle cx="769.4" cy="479.3" r="5.0"/><circle cx="769.9" cy="458.7" r="5.0"/><circle cx="770.4" cy="438.1" r="5.0"/><circle cx="771.0" cy="418.4" r="5.0"/><circle cx="771.6" cy="398.0" r="5.0"/><circle cx="772.3" cy="378.0" r="5.0"/><circle cx="773.0" cy="358.0" r="5.0"/><circle cx="773.6" cy="337.0" r="5.0"/><circle cx="774.3" cy="317.0" r="5.0"/><circle cx="774.8" cy="296.0" r="5.0"/><circle cx="775.3" cy="276.0" r="5.0"/><circle cx="775.6" cy="256.0" r="5.0"/><circle cx="775.9" cy="235.0" r="5.0"/><circle cx="777.6" cy="214.6" r="5.0"/><circle cx="778.5" cy="194.6" r="5.0"/><circle cx="779.6" cy="174.6" r="5.0"/><circle cx="781.6" cy="154.1" r="5.0"/><circle cx="784.9" cy="133.9" r="5.0"/><circle cx="789.2" cy="114.4" r="5.0"/><circle cx="801.8" cy="103.0" r="5.0"/><circle cx="810.2" cy="121.2" r="5.0"/><circle cx="814.9" cy="141.0" r="5.0"/><circle cx="818.5" cy="161.1" r="5.0"/><circle cx="821.6" cy="181.2" r="5.0"/><circle cx="824.6" cy="201.0" r="5.0"/><circle cx="828.9" cy="220.9" r="5.0"/><circle cx="835.8" cy="205.7" r="5.0"/><circle cx="839.3" cy="186.0" r="5.0"/><circle cx="842.9" cy="165.9" r="5.0"/><circle cx="847.4" cy="146.0" r="5.0"/><circle cx="854.0" cy="127.0" r="5.0"/><circle cx="868.9" cy="114.8" r="5.0"/><circle cx="886.5" cy="121.2" r="5.0"/><circle cx="899.5" cy="135.5" r="5.0"/><circle cx="905.9" cy="157.0" r="5.0"/><circle cx="909.9" cy="176.9" r="5.0"/><circle cx="913.1" cy="196.9" r="5.0"/><circle cx="916.3" cy="216.8" r="5.0"/><circle cx="919.4" cy="236.6" r="5.0"/><circle cx="922.8" cy="257.0" r="5.0"/><circle cx="927.1" cy="276.8" r="5.0"/><circle cx="932.3" cy="296.3" r="5.0"/><circle cx="936.7" cy="316.1" r="5.0"/><circle cx="939.2" cy="335.9" r="5.0"/><circle cx="942.0" cy="356.5" r="5.0"/><circle cx="944.4" cy="376.6" r="5.0"/><circle cx="946.4" cy="397.1" r="5.0"/><circle cx="951.1" cy="401.0" r="5.0"/><circle cx="953.6" cy="381.2" r="5.0"/><circle cx="954.1" cy="361.1" r="5.0"/><circle cx="955.4" cy="340.6" r="5.0"/><circle cx="956.7" cy="320.0" r="5.0"/><circle cx="958.0" cy="299.4" r="5.0"/><circle cx="959.8" cy="279.4" r="5.0"/><circle cx="961.3" cy="259.6" r="5.0"/><circle cx="963.4" cy="238.9" r="5.0"/><circle cx="965.8" cy="218.9" r="5.0"/><circle cx="968.9" cy="198.8" r="5.0"/><circle cx="972.1" cy="178.5" r="5.0"/><circle cx="976.9" cy="158.5" r="5.0"/><circle cx="982.5" cy="139.4" r="5.0"/><circle cx="993.7" cy="122.0" r="5.0"/><circle cx="766.7" cy="500.3" r="5.0"/></g>
</g>
<text x="100" y="32.6" font-family="Liberation Serif, serif" stroke="#000" stroke-width="0.3" font-size="36" text-anchor="end">0</text>
<text x="100" y="161.4" font-family="Liberation Serif, serif" stroke="#000" stroke-width="0.3" font-size="36" text-anchor="end">-6</text>
<text x="100" y="290.1" font-family="Liberation Serif, serif" stroke="#000" stroke-width="0.3" font-size="36" text-anchor="end">-12</text>
<text x="100" y="418.9" font-family="Liberation Serif, serif" stroke="#000" stroke-width="0.3" font-size="36" text-anchor="end">-18</text>
<text x="100" y="547.6" font-family="Liberation Serif, serif" stroke="#000" stroke-width="0.3" font-size="36" text-anchor="end">-24</text>
<text x="100" y="676.4" font-family="Liberation Serif, serif" stroke="#000" stroke-width="0.3" font-size="36" text-anchor="end">-30</text>
<text x="131.5" y="719.4" font-family="Liberation Serif, serif" stroke="#000" stroke-width="0.3" font-size="36" text-anchor="middle">0.5</text>
<text x="210.0" y="719.4" font-family="Liberation Serif, serif" stroke="#000" stroke-width="0.3" font-size="36" text-anchor="middle">1</text>
<text x="288.6" y="719.4" font-family="Liberation Serif, serif" stroke="#000" stroke-width="0.3" font-size="36" text-anchor="middle">1.5</text>
<text x="367.1" y="719.4" font-family="Liberation Serif, serif" stroke="#000" stroke-width="0.3" font-size="36" text-anchor="middle">2</text>
<text x="445.6" y="719.4" font-family="Liberation Serif, serif" stroke="#000" stroke-width="0.3" font-size="36" text-anchor="middle">2.5</text>
<text x="524.1" y="719.4" font-family="Liberation Serif, serif" stroke="#000" stroke-width="0.3" font-size="36" text-anchor="middle">3</text>
<text x="602.7" y="719.4" font-family="Liberation Serif, serif" stroke="#000" stroke-width="0.3" font-size="36" text-anchor="middle">3.5</text>
<text x="681.2" y="719.4" font-family="Liberation Serif, serif" stroke="#000" stroke-width="0.3" font-size="36" text-anchor="middle">4</text>
<text x="759.7" y="719.4" font-family="Liberation Serif, serif" stroke="#000" stroke-width="0.3" font-size="36" text-anchor="middle">4.5</text>
<text x="838.2" y="719.4" font-family="Liberation Serif, serif" stroke="#000" stroke-width="0.3" font-size="36" text-anchor="middle">5</text>
<text x="916.8" y="719.4" font-family="Liberation Serif, serif" stroke="#000" stroke-width="0.3" font-size="36" text-anchor="middle">5.5</text>
<text x="995.3" y="719.4" font-family="Liberation Serif, serif" stroke="#000" stroke-width="0.3" font-size="36" text-anchor="middle">6</text>
<text x="562.5" y="767.3" font-family="Liberation Serif, serif" stroke="#000" stroke-width="0.3" font-size="36" text-anchor="middle">Frequency(GHz)</text>
<text transform="translate(30.5,342.5) rotate(-90)" x="0" y="0" font-family="Liberation Serif, serif" stroke="#000" stroke-width="0.3" font-size="36" text-anchor="middle">S-parameter(dB)</text>
<line x1="713" y1="548" x2="826.7" y2="548" stroke="#ff0000" stroke-width="6.3" stroke-linecap="round" stroke-dasharray="13.2 13.8"/>
<line x1="713" y1="587.3" x2="826.7" y2="587.3" stroke="#000" stroke-width="6.4" stroke-linecap="round"/>
<line x1="713" y1="626.8" x2="826.7" y2="626.8" stroke="#00b050" stroke-width="10" stroke-linecap="round" stroke-dasharray="0 20.4"/>
<text x="839" y="559.2" font-family="Liberation Serif, serif" stroke="#000" stroke-width="0.3" font-size="36">57.35mm</text>
<text x="839" y="599.2" font-family="Liberation Serif, serif" stroke="#000" stroke-width="0.3" font-size="36">67.35mm</text>
<text x="839" y="639.2" font-family="Liberation Serif, serif" stroke="#000" stroke-width="0.3" font-size="36">77.35mm</text>
</svg>
</body></html>
